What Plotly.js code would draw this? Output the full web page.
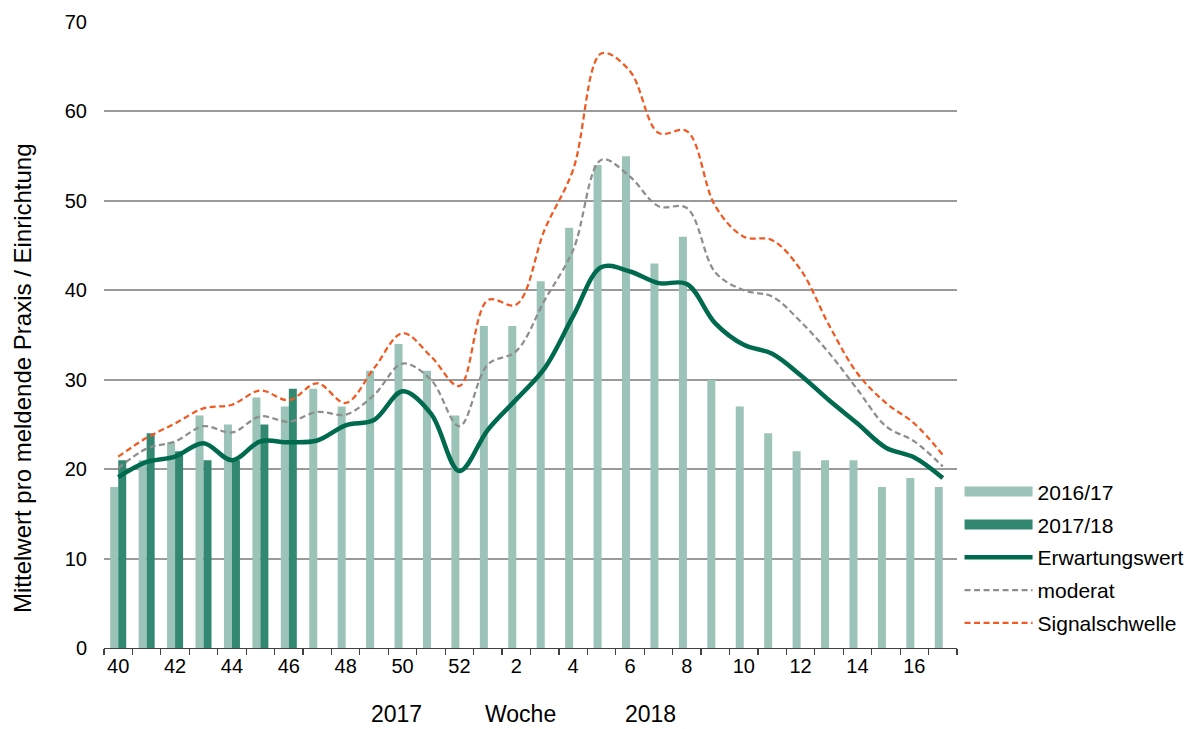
<!DOCTYPE html>
<html>
<head>
<meta charset="utf-8">
<script src="https://cdn.plot.ly/plotly-3.0.1.min.js"></script>
<style>
html,body{margin:0;padding:0;background:#fff;}
#chart{width:1192px;height:729px;}
</style>
</head>
<body>
<div id="chart"></div>
<script>
// Kalenderwochen (Saison 40/2017 bis 17/2018)
var weeks = ['40','41','42','43','44','45','46','47','48','49','50','51','52',
             '1','2','3','4','5','6','7','8','9','10','11','12','13','14','15','16','17'];
var tickLabels = ['40','','42','','44','','46','','48','','50','','52',
                  '','2','','4','','6','','8','','10','','12','','14','','16',''];

var season1617 = [18,21,23,26,25,28,27,29,27,31,34,31,26,36,36,41,47,54,55,43,46,30,27,24,22,21,21,18,19,18];
var season1718 = [21,24,22,21,21,25,29,null,null,null,null,null,null,null,null,null,null,null,null,null,null,null,null,null,null,null,null,null,null,null];
var erwartungswert = [19.1,20.8,21.4,22.9,21.0,23.1,23.0,23.2,24.9,25.5,28.7,26.2,19.8,24.4,27.8,31.3,37.1,42.6,42.1,40.8,40.7,36.3,33.9,32.9,30.5,27.7,25.1,22.4,21.3,19.0];
var moderat = [20.1,22.3,23.1,24.8,24.1,25.9,25.3,26.4,26.1,28.3,31.8,30.0,24.8,31.7,33.2,38.9,44.5,54.6,52.7,49.4,49.2,42.0,40.0,39.3,36.5,33.0,28.9,24.8,23.1,20.3];
var signalschwelle = [21.4,23.5,25.1,26.8,27.2,28.8,27.7,29.6,27.4,31.3,35.2,32.6,29.3,38.9,38.4,46.8,53.5,66.5,64.5,57.6,57.8,49.4,46.0,45.6,42.3,36.1,30.7,27.4,25.1,21.6];

var FONT = 'Liberation Sans, Arial, sans-serif';
var C1617 = '#9BC3B7', C1718 = '#338872';

var traces = [
  {type:'bar', name:'2016/17', legendgroup:'a', showlegend:false, x:weeks, y:season1617, marker:{color:C1617}},
  {type:'bar', name:'2017/18', legendgroup:'b', showlegend:false, x:weeks, y:season1718, marker:{color:C1718}},
  // legend keys for the bar series (wide bar swatches as in the original)
  {type:'scatter', mode:'lines', name:'2016/17', legendgroup:'a', x:[null], y:[null], line:{color:C1617, width:10}},
  {type:'scatter', mode:'lines', name:'2017/18', legendgroup:'b', x:[null], y:[null], line:{color:C1718, width:10}},
  {type:'scatter', mode:'lines', name:'Erwartungswert', legendgroup:'c', x:weeks, y:erwartungswert,
   line:{color:'#006A4E', width:4.5, shape:'spline', smoothing:1}},
  {type:'scatter', mode:'lines', name:'moderat', legendgroup:'d', x:weeks, y:moderat,
   line:{color:'#8E8E8E', width:2.25, dash:'6px,3.5px', shape:'spline', smoothing:1}},
  {type:'scatter', mode:'lines', name:'Signalschwelle', legendgroup:'e', x:weeks, y:signalschwelle,
   line:{color:'#F05A22', width:2.25, dash:'6px,3.5px', shape:'spline', smoothing:1}}
];

var layout = {
  width:1192, height:729,
  margin:{l:104, r:235, t:22, b:81, pad:0, autoexpand:false},
  paper_bgcolor:'#ffffff', plot_bgcolor:'#ffffff',
  font:{family:FONT, size:20, color:'#000000'},
  barmode:'group', bargap:0.437, bargroupgap:0,
  showlegend:true,
  legend:{x:1.003, xanchor:'left', y:0.282, yanchor:'top',
          font:{family:FONT, size:21, color:'#000'}, itemwidth:68,
          bgcolor:'rgba(0,0,0,0)', tracegroupgap:2.5, traceorder:'grouped'},
  xaxis:{type:'category', categoryorder:'array', categoryarray:weeks,
         range:[-0.5, 29.5], tickmode:'array', tickvals:weeks, ticktext:tickLabels, tickangle:0,
         tickson:'boundaries', ticks:'outside', ticklen:6, tickwidth:1.2, tickcolor:'#404040',
         showline:true, linecolor:'#404040', linewidth:1.2, showgrid:false, zeroline:false,
         tickfont:{family:FONT, size:20, color:'#000'}, fixedrange:true},
  yaxis:{range:[0,70], dtick:10, tick0:0, showgrid:true, gridcolor:'#9a9a9a', gridwidth:2,
         zeroline:false, showline:false, ticks:'outside', ticklen:12, tickcolor:'rgba(0,0,0,0)',
         tickfont:{family:FONT, size:20, color:'#000'},
         automargin:false, fixedrange:true},
  annotations:[
    {text:'Mittelwert pro meldende Praxis / Einrichtung', textangle:-90, xref:'paper', yref:'paper',
     x:(22-104)/853, y:(648-378)/626, showarrow:false, xanchor:'center', yanchor:'middle',
     font:{family:FONT, size:24, color:'#000'}},
    {text:'2017', xref:'paper', yref:'paper', x:(396-104)/853, y:-(714-648)/626, showarrow:false, xanchor:'center', yanchor:'middle', font:{family:FONT, size:23, color:'#000'}},
    {text:'Woche', xref:'paper', yref:'paper', x:(520-104)/853, y:-(714-648)/626, showarrow:false, xanchor:'center', yanchor:'middle', font:{family:FONT, size:23, color:'#000'}},
    {text:'2018', xref:'paper', yref:'paper', x:(650-104)/853, y:-(714-648)/626, showarrow:false, xanchor:'center', yanchor:'middle', font:{family:FONT, size:23, color:'#000'}}
  ]
};

Plotly.newPlot('chart', traces, layout, {staticPlot:true, displayModeBar:false});
</script>
</body>
</html>
